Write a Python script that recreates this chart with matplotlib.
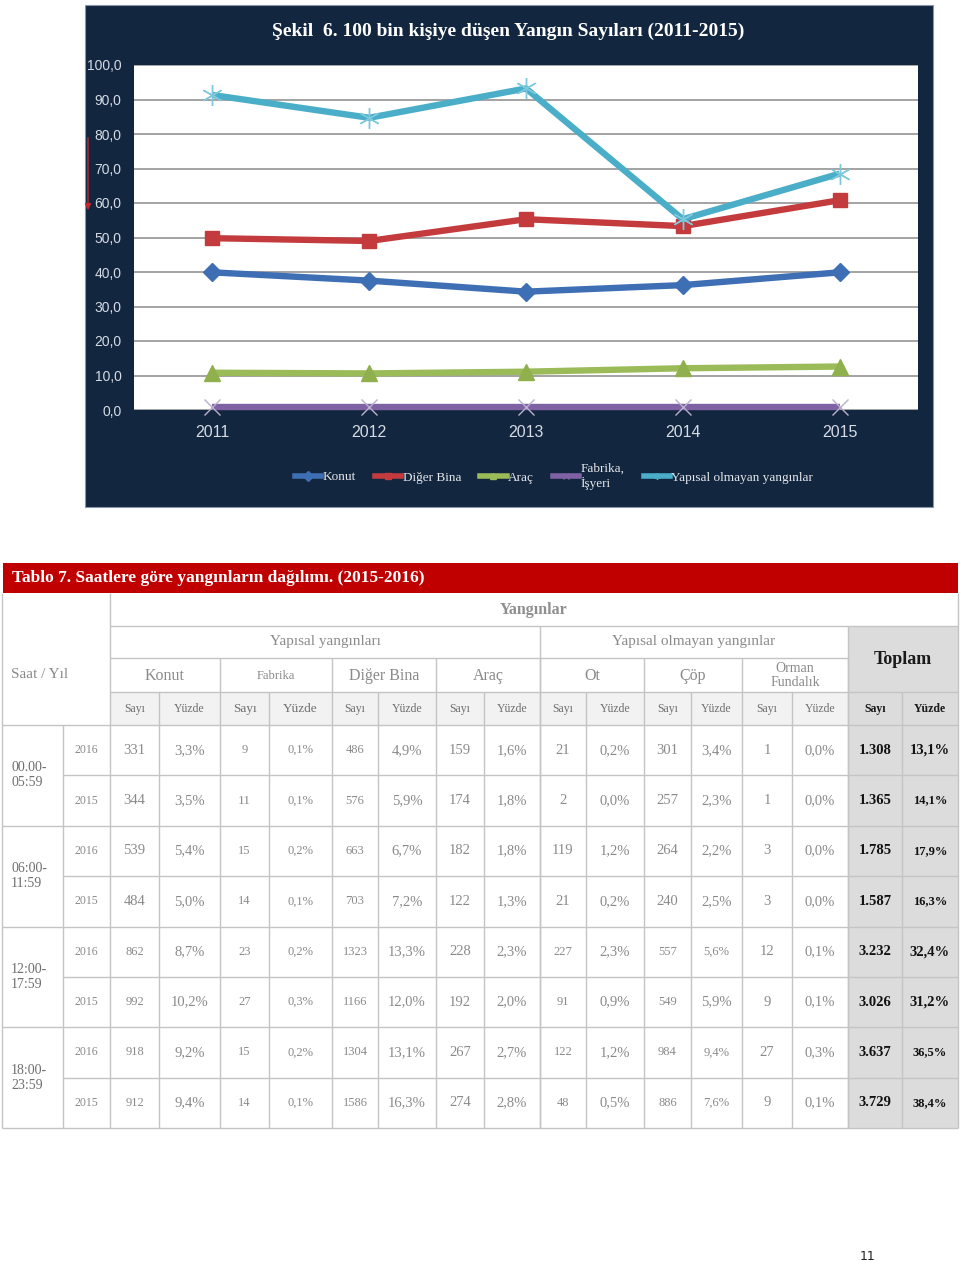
import matplotlib
matplotlib.use("Agg")
import matplotlib.pyplot as plt
from matplotlib.patches import Rectangle
from matplotlib.lines import Line2D

# ---------------- chart data ----------------
chart_years = ["2011", "2012", "2013", "2014", "2015"]
konut = [39.9, 37.5, 34.3, 36.2, 39.9]
diger_bina = [49.8, 49.0, 55.3, 53.3, 60.8]
arac = [10.8, 10.6, 11.1, 12.1, 12.6]
fabrika_isyeri = [0.8, 0.8, 0.8, 0.8, 0.8]
yapisal_olmayan = [91.3, 84.7, 93.2, 55.3, 68.5]
series_labels = ["Konut", "Diğer Bina", "Araç", "Fabrika,\nİşyeri", "Yapısal olmayan yangınlar"]
y_ticks = [0, 10, 20, 30, 40, 50, 60, 70, 80, 90, 100]
chart_title = "Şekil  6. 100 bin kişiye düşen Yangın Sayıları (2011-2015)"

# ---------------- table data ----------------
table_title = "Tablo 7. Saatlere göre yangınların dağılımı. (2015-2016)"
hour_ranges = ["00.00-\n05:59", "06:00-\n11:59", "12:00-\n17:59", "18:00-\n23:59"]
table_years = ["2016", "2015"]
konut_n = [331, 344, 539, 484, 862, 992, 918, 912]
konut_p = [3.3, 3.5, 5.4, 5.0, 8.7, 10.2, 9.2, 9.4]
fabrika_n = [9, 11, 15, 14, 23, 27, 15, 14]
fabrika_p = [0.1, 0.1, 0.2, 0.1, 0.2, 0.3, 0.2, 0.1]
diger_n = [486, 576, 663, 703, 1323, 1166, 1304, 1586]
diger_p = [4.9, 5.9, 6.7, 7.2, 13.3, 12.0, 13.1, 16.3]
arac_n = [159, 174, 182, 122, 228, 192, 267, 274]
arac_p = [1.6, 1.8, 1.8, 1.3, 2.3, 2.0, 2.7, 2.8]
ot_n = [21, 2, 119, 21, 227, 91, 122, 48]
ot_p = [0.2, 0.0, 1.2, 0.2, 2.3, 0.9, 1.2, 0.5]
cop_n = [301, 257, 264, 240, 557, 549, 984, 886]
cop_p = [3.4, 2.3, 2.2, 2.5, 5.6, 5.9, 9.4, 7.6]
orman_n = [1, 1, 3, 3, 12, 9, 27, 9]
orman_p = [0.0, 0.0, 0.0, 0.0, 0.1, 0.1, 0.3, 0.1]
toplam_n = [1308, 1365, 1785, 1587, 3232, 3026, 3637, 3729]
toplam_p = [13.1, 14.1, 17.9, 16.3, 32.4, 31.2, 36.5, 38.4]
categories = ["Konut", "Fabrika", "Diğer Bina", "Araç", "Ot", "Çöp", "Orman\nFundalık"]
page_number = "11"

W, H = 960, 1261
fig = plt.figure(figsize=(W / 100, H / 100), dpi=100)
fig.patch.set_facecolor("white")

pg = fig.add_axes([0, 0, 1, 1])
pg.set_xlim(0, W)
pg.set_ylim(H, 0)
pg.axis("off")


def fax(x0, y0, x1, y1):
    return [x0 / W, 1 - y1 / H, (x1 - x0) / W, (y1 - y0) / H]


SANS = ["Liberation Sans", "DejaVu Sans"]
SERIF = ["Liberation Serif", "DejaVu Serif"]

# ---------------- chart panel ----------------
pg.add_patch(Rectangle((85, 5), 848, 502, facecolor="#12263f", edgecolor="#8a96a8", lw=0.8))
pg.text(508, 31, chart_title, ha="center", va="center", color="white",
        fontsize=14, fontweight="bold", family=SERIF)
pg.annotate("", xy=(88, 213), xytext=(88, 135),
            arrowprops=dict(arrowstyle="-|>", color="#c0282d", lw=1.0, mutation_scale=9))

ax = fig.add_axes(fax(134, 65, 918, 410))
ax.set_facecolor("white")
x = list(range(len(chart_years)))
series = [
    (konut, "#3e6fb4", "D", 9, "#3e6fb4", "#3e6fb4", 1),
    (diger_bina, "#c43b3d", "s", 10.5, "#c43b3d", "#c43b3d", 1),
    (arac, "#9bbb59", "^", 11, "#8fb04c", "#8fb04c", 1),
    (fabrika_isyeri, "#7f62a3", "x", 11, "none", "#b8b0cc", 1.0),
    (yapisal_olmayan, "#4aaec8", (6, 2, 0), 15, "none", "#7cc8dc", 1.0),
]
handles = []
for vals, col, mk, ms, mfc, mec, mew in series:
    ax.plot(x, vals, color=col, lw=4.6, marker=mk, ms=ms, mfc=mfc, mec=mec,
            mew=mew, solid_capstyle="butt", zorder=3, clip_on=False)
    handles.append(Line2D([], [], color=col, lw=4.0, marker=mk, ms=5, mfc=col, mec=col))

ax.set_xlim(-0.5, len(chart_years) - 0.5)
ax.set_ylim(y_ticks[0], y_ticks[-1])
ax.set_yticks(y_ticks)
ax.set_yticklabels([f"{v:.1f}".replace(".", ",") for v in y_ticks])
ax.set_xticks(x)
ax.set_xticklabels(chart_years)
ax.yaxis.grid(True, color="#9c9c9c", lw=1.3)
ax.set_axisbelow(True)
for s in ax.spines.values():
    s.set_visible(False)
ax.tick_params(axis="both", length=0, colors="#d6dbe3")
ax.tick_params(axis="y", pad=9, labelsize=10)
ax.tick_params(axis="x", pad=11, labelsize=11.5)
for lab in ax.get_xticklabels() + ax.get_yticklabels():
    lab.set_family(SANS)

leg = fig.legend(handles, series_labels, loc="center",
                 bbox_to_anchor=(554 / W, 1 - 476 / H), ncol=5, frameon=False,
                 handlelength=2.0, handletextpad=0.1, columnspacing=1.45,
                 prop={"family": SERIF, "size": 9.5})
for t in leg.get_texts():
    t.set_color("#e4e6ea")

# ---------------- table ----------------
LINE = "#c4c4c4"
GRAY = "#8a8a8a"
pg.add_patch(Rectangle((3, 563), 955, 30, facecolor="#c00000", edgecolor="none"))
pg.text(12, 578, table_title, ha="left", va="center", color="white",
        fontsize=12.5, fontweight="bold", family=SERIF)

cols = [2, 63, 110, 159, 220, 269, 332, 378, 436, 484, 540, 586, 644, 691, 742, 792, 848, 902, 958]
nrows = 8
row_h = (1128 - 725) / nrows
rows = [725 + i * row_h for i in range(nrows + 1)]

pg.add_patch(Rectangle((110, 692), 848 - 110, 33, facecolor="#f2f2f2", edgecolor="none"))
pg.add_patch(Rectangle((848, 626), 110, rows[-1] - 626, facecolor="#dcdcdc", edgecolor="none"))


def hl(y, x0, x1):
    pg.plot([x0, x1], [y, y], color=LINE, lw=1.0, solid_capstyle="butt")


def vl(xx, y0, y1):
    pg.plot([xx, xx], [y0, y1], color=LINE, lw=1.0, solid_capstyle="butt")


hl(626, 110, 958)
hl(658, 110, 848)
hl(692, 110, 958)
hl(725, 2, 958)
vl(2, 593, rows[-1])
vl(958, 593, rows[-1])
vl(110, 593, rows[-1])
vl(540, 626, rows[-1])
vl(848, 626, rows[-1])
group_edges = cols[2::2]
for c in group_edges[1:-1]:
    vl(c, 658, rows[-1])
for c in cols[3::2]:
    vl(c, 692, rows[-1])
vl(63, 725, rows[-1])
for i, y in enumerate(rows[1:], start=1):
    hl(y, 2 if i % 2 == 0 else 63, 958)

# header texts
pg.text(11, 675, "Saat / Yıl", ha="left", va="center", color=GRAY, fontsize=11, family=SERIF)
pg.text(534, 610, "Yangınlar", ha="center", va="center", color="#8f8f8f",
        fontsize=11.5, fontweight="bold", family=SERIF)
pg.text(325, 642, "Yapısal yangınları", ha="center", va="center", color=GRAY, fontsize=11, family=SERIF)
pg.text(694, 642, "Yapısal olmayan yangınlar", ha="center", va="center", color=GRAY, fontsize=11, family=SERIF)
pg.text(903, 659, "Toplam", ha="center", va="center", color="#1a1a1a",
        fontsize=13, fontweight="bold", family=SERIF)
cat_sizes = [11.5, 9, 11.5, 11.5, 11.5, 11.5, 10]
for k, name in enumerate(categories):
    cx = (group_edges[k] + group_edges[k + 1]) / 2
    pg.text(cx, 676, name, ha="center", va="center", color=GRAY, fontsize=cat_sizes[k],
            family=SERIF, linespacing=1.1)
centers = [(cols[i] + cols[i + 1]) / 2 for i in range(2, len(cols) - 1)]
for j, cx in enumerate(centers):
    label = "Sayı" if j % 2 == 0 else "Yüzde"
    if j >= 14:
        pg.text(cx, 709, label, ha="center", va="center", color="#1a1a1a",
                fontsize=8.5, fontweight="bold", family=SERIF)
    else:
        size = 9.5 if j in (2, 3) else 8.5
        pg.text(cx, 709, label, ha="center", va="center", color="#6f6f6f", fontsize=size, family=SERIF)


def fmt_n(v):
    return str(v)


def fmt_t(v):
    return f"{v:,}".replace(",", ".")


def fmt_p(v):
    return f"{v:.1f}".replace(".", ",") + "%"


columns = [
    [fmt_n(v) for v in konut_n], [fmt_p(v) for v in konut_p],
    [fmt_n(v) for v in fabrika_n], [fmt_p(v) for v in fabrika_p],
    [fmt_n(v) for v in diger_n], [fmt_p(v) for v in diger_p],
    [fmt_n(v) for v in arac_n], [fmt_p(v) for v in arac_p],
    [fmt_n(v) for v in ot_n], [fmt_p(v) for v in ot_p],
    [fmt_n(v) for v in cop_n], [fmt_p(v) for v in cop_p],
    [fmt_n(v) for v in orman_n], [fmt_p(v) for v in orman_p],
    [fmt_t(v) for v in toplam_n], [fmt_p(v) for v in toplam_p],
]
L, S = 10.5, 9
size_grid = [[L] * 16 for _ in range(nrows)]
for r in range(nrows):
    size_grid[r][3] = S
    size_grid[r][4] = S
    size_grid[r][2] = S if r in (0, 2, 3, 4, 5, 6, 7) else 9.5
    if r >= 4:
        size_grid[r][0] = S
        size_grid[r][8] = S
        size_grid[r][10] = S
    if r in (4, 6, 7):
        size_grid[r][11] = S
    size_grid[r][15] = L if r in (0, 4, 5) else S

for r in range(nrows):
    cy = (rows[r] + rows[r + 1]) / 2
    pg.text(86, cy, table_years[r % 2], ha="center", va="center", color=GRAY, fontsize=8.5, family=SERIF)
    for j, colvals in enumerate(columns):
        if j >= 14:
            pg.text(centers[j], cy, colvals[r], ha="center", va="center", color="#111111",
                    fontsize=size_grid[r][j], fontweight="bold", family=SERIF)
        else:
            pg.text(centers[j], cy, colvals[r], ha="center", va="center", color=GRAY,
                    fontsize=size_grid[r][j], family=SERIF)

for g, label in enumerate(hour_ranges):
    pg.text(11, rows[2 * g + 1], label, ha="left", va="center", color="#6e6e6e",
            fontsize=10, family=SERIF, linespacing=1.2)

pg.text(868, 1256, page_number, ha="center", va="center", color="#222222", fontsize=9)

fig.savefig("out.png", dpi=100, facecolor="white")
